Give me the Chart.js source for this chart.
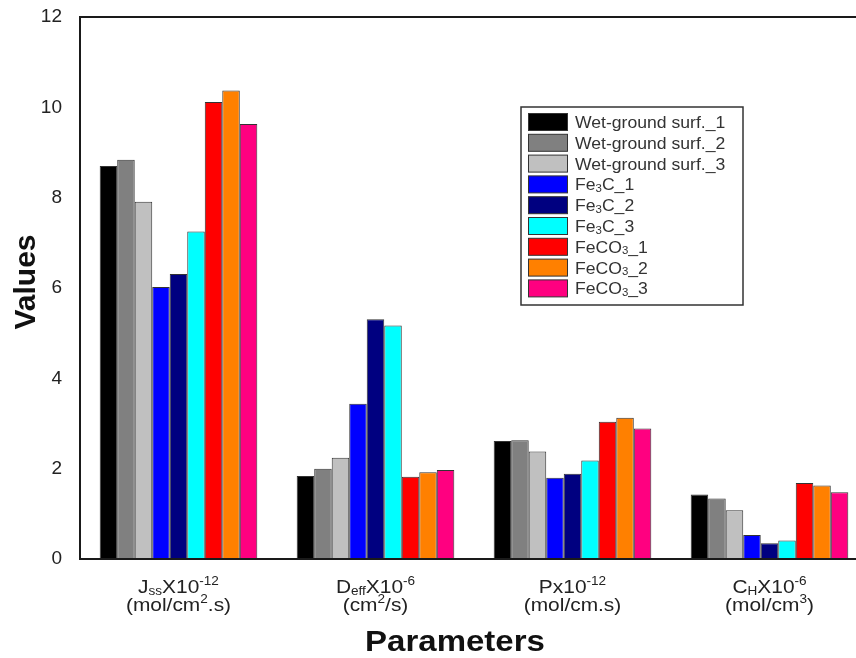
<!DOCTYPE html>
<html>
<head>
<meta charset="utf-8">
<script src="https://cdn.jsdelivr.net/npm/chart.js@4.4.1/dist/chart.umd.min.js"></script>
<style>
  html, body { margin: 0; padding: 0; background: #fff; overflow: hidden; }
  #wrap { width: 880px; height: 658px; }
</style>
</head>
<body>
<div id="wrap"><canvas id="c" width="880" height="658"></canvas></div>
<script>
// Parameter groups on the x axis; ~text~ is drawn as subscript, ^text^ as superscript
const categories = [
  ['J~ss~X10^-12^', '(mol/cm^2^.s)'],
  ['D~eff~X10^-6^', '(cm^2^/s)'],
  ['Px10^-12^', '(mol/cm.s)'],
  ['C~H~X10^-6^', '(mol/cm^3^)']
];

const seriesNames = [
  'Wet-ground surf._1', 'Wet-ground surf._2', 'Wet-ground surf._3',
  'Fe~3~C_1', 'Fe~3~C_2', 'Fe~3~C_3',
  'FeCO~3~_1', 'FeCO~3~_2', 'FeCO~3~_3'
];

const seriesColors = [
  '#000000', '#808080', '#c0c0c0',
  '#0000ff', '#000080', '#00ffff',
  '#ff0000', '#ff8000', '#ff0080'
];

// Values per series, in category order
const wetGround1 = [8.70, 1.84, 2.61, 1.43];
const wetGround2 = [8.84, 2.00, 2.63, 1.34];
const wetGround3 = [7.91, 2.24, 2.38, 1.08];
const fe3c1      = [6.02, 3.44, 1.80, 0.53];
const fe3c2      = [6.31, 5.31, 1.89, 0.35];
const fe3c3      = [7.25, 5.17, 2.18, 0.41];
const feco3_1    = [10.12, 1.82, 3.04, 1.68];
const feco3_2    = [10.37, 1.92, 3.13, 1.63];
const feco3_3    = [9.63, 1.97, 2.89, 1.48];

const seriesValues = [wetGround1, wetGround2, wetGround3, fe3c1, fe3c2, fe3c3, feco3_1, feco3_2, feco3_3];

const yMin = 0, yMax = 12, yStep = 2;
const yTitle = 'Values';
const xTitle = 'Parameters';

const FONT = 'Arial, "Liberation Sans", sans-serif';
const TEXT_STRETCH = 1.1;

function parseRich(s) {
  const parts = [];
  let mode = null, buf = '';
  for (const ch of s) {
    if (ch === '~' || ch === '^') {
      if (buf) parts.push({ t: buf, m: mode });
      buf = '';
      const m = ch === '~' ? 'sub' : 'sup';
      mode = (mode === m) ? null : m;
    } else {
      buf += ch;
    }
  }
  if (buf) parts.push({ t: buf, m: mode });
  return parts;
}

function plain(s) { return s.replace(/[~^]/g, ''); }

function drawRich(ctx, str, x, y, size, align, color, weight) {
  const parts = parseRich(str);
  const small = size * 0.65;
  const w = weight || 'normal';
  let total = 0;
  for (const p of parts) {
    ctx.font = w + ' ' + (p.m ? small : size) + 'px ' + FONT;
    p.w = ctx.measureText(p.t).width;
    total += p.w;
  }
  ctx.save();
  ctx.translate(x, y);
  ctx.scale(TEXT_STRETCH, 1);
  ctx.fillStyle = color;
  ctx.textBaseline = 'alphabetic';
  ctx.textAlign = 'left';
  let cx = align === 'center' ? -total / 2 : 0;
  for (const p of parts) {
    ctx.font = w + ' ' + (p.m ? small : size) + 'px ' + FONT;
    const dy = p.m === 'sub' ? size * 0.1 : p.m === 'sup' ? -size * 0.4 : 0;
    ctx.fillText(p.t, cx, dy);
    cx += p.w;
  }
  ctx.restore();
}

// Plot frame, category labels, axis titles and the boxed legend
const decorations = {
  id: 'decorations',
  afterDatasetsDraw(chart) {
    const { ctx, chartArea: a } = chart;
    ctx.save();
    ctx.strokeStyle = '#1a1a1a';
    ctx.lineWidth = 2;
    ctx.strokeRect(a.left, a.top, a.right - a.left, a.bottom - a.top);
    ctx.restore();
  },
  afterDraw(chart) {
    const { ctx, chartArea: a } = chart;
    const xs = chart.scales.x;

    categories.forEach((lines, i) => {
      const cx = xs.getPixelForValue(i);
      drawRich(ctx, lines[0], cx, a.bottom + 34, 19, 'center', '#222');
      drawRich(ctx, lines[1], cx, a.bottom + 52, 19, 'center', '#222');
    });

    drawRich(ctx, xTitle, 455, 651, 30, 'center', '#111', 'bold');

    ctx.save();
    ctx.translate(27, 282);
    ctx.rotate(-Math.PI / 2);
    ctx.font = 'bold 30px ' + FONT;
    ctx.fillStyle = '#111';
    ctx.textAlign = 'center';
    ctx.textBaseline = 'middle';
    ctx.fillText(yTitle, 0, 0);
    ctx.restore();

    // legend
    const L = { x: 521, y: 107, w: 222, h: 198 };
    ctx.save();
    ctx.fillStyle = '#fff';
    ctx.fillRect(L.x, L.y, L.w, L.h);
    ctx.strokeStyle = '#333';
    ctx.lineWidth = 1.5;
    ctx.strokeRect(L.x, L.y, L.w, L.h);
    const rowH = 20.8;
    seriesNames.forEach((name, i) => {
      const cy = L.y + 15 + i * rowH;
      ctx.fillStyle = seriesColors[i];
      ctx.fillRect(528, cy - 8.5, 39, 17);
      ctx.strokeStyle = '#333';
      ctx.lineWidth = 1;
      ctx.strokeRect(528.5, cy - 8.5, 39, 17);
      drawRich(ctx, name, 575, cy + 6, 16, 'left', '#333');
    });
    ctx.restore();
  }
};

const datasets = seriesNames.map((name, i) => ({
  label: plain(name),
  data: seriesValues[i],
  backgroundColor: seriesColors[i],
  borderColor: '#333',
  borderWidth: 1,
  categoryPercentage: 0.8,
  barPercentage: 1.0
}));

new Chart(document.getElementById('c'), {
  type: 'bar',
  data: { labels: categories.map(c => plain(c[0])), datasets },
  options: {
    responsive: false,
    animation: false,
    layout: { padding: { left: 0, top: 17, right: 12, bottom: 99 } },
    plugins: { legend: { display: false }, tooltip: { enabled: false } },
    scales: {
      x: { display: false },
      y: {
        min: yMin, max: yMax,
        grid: { display: false, drawTicks: false },
        border: { display: false },
        ticks: {
          stepSize: yStep,
          padding: 18,
          color: '#222',
          font: { family: FONT, size: 19 }
        },
        afterFit(s) {
          s.width = 80;
          s.paddingTop = 0;
          s.paddingBottom = 0;
        }
      }
    }
  },
  plugins: [decorations]
});
</script>
</body>
</html>
